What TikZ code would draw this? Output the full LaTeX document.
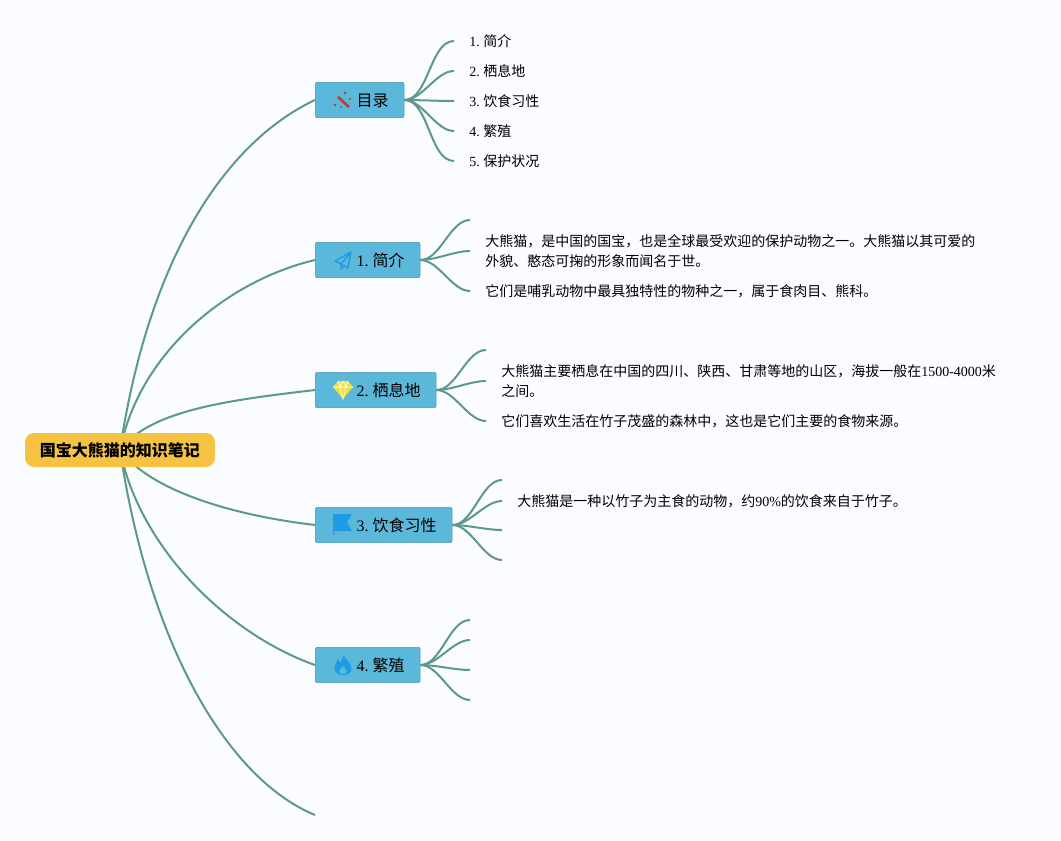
\documentclass[tikz,border=0pt]{standalone}
\usepackage{fontspec}
\setmainfont{Liberation Serif}
\newfontfamily\cjk{Noto Sans CJK SC}
\usetikzlibrary{backgrounds,calc}
\newcommand{\zh}[1]{{\cjk #1}}
\definecolor{pagebg}{HTML}{FBFCFF}
\definecolor{linecol}{HTML}{5B9A8B}
\definecolor{topicfill}{HTML}{5BB8DB}
\definecolor{topicline}{HTML}{4C9AA8}
\definecolor{rootfill}{HTML}{F5C242}
\definecolor{iconblue}{HTML}{1E9BE3}
\definecolor{iconred}{HTML}{C0392B}
\definecolor{iconyellow}{HTML}{EDE23C}
\tikzset{
  x=0.75pt,y=-0.75pt,
  rootnode/.style={fill=rootfill,rounded corners=7pt,minimum width=142.5pt,minimum height=25.5pt,inner sep=0pt,font=\fontsize{12}{14}\selectfont\cjk\bfseries},
  topic/.style={anchor=west,draw=topicline,fill=topicfill,rounded corners=1.5pt,minimum height=26.5pt,inner xsep=11.6pt,inner ysep=0pt,text height=11pt,text depth=1.2pt,font=\fontsize{12}{14}\selectfont\frenchspacing},
  leaf/.style={anchor=west,inner xsep=11.25pt,inner ysep=1pt,align=left,font=\fontsize{10.5}{15}\selectfont\frenchspacing},
  branch/.style={draw=linecol,line width=1.5pt},
  twig/.style={draw=linecol,line width=1.5pt,out=0,in=180,looseness=0.8},
  wand/.pic={
    \draw[iconred,line width=1.9pt] (-5,-3) -- (6,7);
    \fill[iconred] (2,-7) circle (1.4) (7,-1) circle (1.2) (-8,5) circle (1.4) (-2,7) circle (1);
  },
  plane/.pic={
    \draw[iconblue,line width=1pt,line join=round] (8,-8) -- (-8,1) -- (-2,4) -- cycle (8,-8) -- (5,8) -- (-2,4) -- (-2,9) -- (1,6);
  },
  gem/.pic={
    \fill[iconyellow] (-5,-9) -- (5,-9) -- (10,-3) -- (0,9) -- (-10,-3) -- cycle;
    \draw[white,line width=0.5pt] (-10,-3) -- (10,-3) (-5,-9) -- (-3,-3) -- (0,9) -- (3,-3) -- (5,-9) (-3,-3) -- (0,-9) -- (3,-3);
  },
  flag/.pic={
    \fill[iconblue] (-10,-11) -- (9,-11) -- (4,-3) -- (9,6) -- (-8.7,6) -- (-8.7,10) -- (-10,10) -- cycle;
  },
  flame/.pic={
    \fill[iconblue,even odd rule] (1,-10) .. controls (2,-5) and (8,-3) .. (8.5,3) .. controls (9,8) and (4,10) .. (0,10) .. controls (-5,10) and (-9,7) .. (-8.5,2) .. controls (-8,-2) and (-6,-3) .. (-5,-6) .. controls (-4,-4) and (-3,-3) .. (-2,-3) .. controls (-1,-5) and (-1,-8) .. (1,-10) -- cycle
      (0,1) .. controls (-1,3) and (-4,4) .. (-4,6.5) .. controls (-4,8.5) and (-2,9) .. (0,9) .. controls (2,9) and (4,8.5) .. (4,6.5) .. controls (4,4) and (1,3) .. (0,1) -- cycle;
  },
}

\begin{document}
\begin{tikzpicture}
        \useasboundingbox (0,0) rectangle (1061,840);
        %
        \node[rootnode] (root) at (120,450) {国宝大熊猫的知识笔记};
        \node[topic] (mulu) at (315,100) {\hspace*{19.5pt}\zh{目录}};
        \node[topic] (jianjie) at (315,260) {\hspace*{19.5pt}1. \zh{简介}};
        \node[topic] (qixi) at (315,390) {\hspace*{19.5pt}2. \zh{栖息地}};
        \node[topic] (yinshi) at (315,525) {\hspace*{19.5pt}3. \zh{饮食习性}};
        \node[topic] (fanzhi) at (315,665) {\hspace*{19.5pt}4. \zh{繁殖}};
        \coordinate (last) at (315,815);
        %
        \pic at ($(mulu.west)+(28,0)$) {wand};
        \pic at ($(jianjie.west)+(28,0)$) {plane};
        \pic at ($(qixi.west)+(28,0)$) {gem};
        \pic at ($(yinshi.west)+(28,0)$) {flag};
        \pic at ($(fanzhi.west)+(28,0)$) {flame};
        %
        % contents
        \node[leaf] (m1) at (454,41) {1. \zh{简介}};
        \node[leaf] (m2) at (454,71) {2. \zh{栖息地}};
        \node[leaf] (m3) at (454,101) {3. \zh{饮食习性}};
        \node[leaf] (m4) at (454,131) {4. \zh{繁殖}};
        \node[leaf] (m5) at (454,161) {5. \zh{保护状况}};
        \foreach \n in {1,...,5}
          \draw[twig] (mulu.east) to (m\n.west);
        %
        % intro
        \coordinate (j1) at (470,220);
        \node[leaf] (j2) at (470,251) {\zh{大熊猫，是中国的国宝，也是全球最受欢迎的保护动物之一。大熊猫以其可爱的}\\\zh{外貌、憨态可掬的形象而闻名于世。}};
        \node[leaf] (j3) at (470,291) {\zh{它们是哺乳动物中最具独特性的物种之一，属于食肉目、熊科。}};
        \foreach \n in {1,2,3}
          \draw[twig] (jianjie.east) to (j\n);
        %
        % habitat
        \coordinate (q1) at (486,350);
        \node[leaf] (q2) at (486,381) {\zh{大熊猫主要栖息在中国的四川、陕西、甘肃等地的山区，海拔一般在}1500-4000\zh{米}\\\zh{之间。}};
        \node[leaf] (q3) at (486,421) {\zh{它们喜欢生活在竹子茂盛的森林中，这也是它们主要的食物来源。}};
        \foreach \n in {1,2,3}
          \draw[twig] (qixi.east) to (q\n);
        %
        % diet
        \coordinate (y1) at (502,480);
        \node[leaf] (y2) at (502,501) {\zh{大熊猫是一种以竹子为主食的动物，约}90\%\zh{的饮食来自于竹子。}};
        \coordinate (y3) at (502,530);
        \coordinate (y4) at (502,560);
        \foreach \n in {1,...,4}
          \draw[twig] (yinshi.east) to (y\n);
        %
        % breeding
        \coordinate (f1) at (470,620);
        \coordinate (f2) at (470,640);
        \coordinate (f3) at (470,670);
        \coordinate (f4) at (470,700);
        \foreach \n in {1,...,4}
          \draw[twig] (fanzhi.east) to (f\n);
        %
        \begin{pgfonlayer}{background}
          \fill[pagebg] (0,0) rectangle (1061,840);
          \draw[branch] (root.center) .. controls (150,250) and (230,140) .. (mulu.west);
          \draw[branch] (root.center) .. controls (140,350) and (230,280) .. (jianjie.west);
          \draw[branch] (root.center) .. controls (150,410) and (230,400) .. (qixi.west);
          \draw[branch] (root.center) .. controls (150,490) and (230,515) .. (yinshi.west);
          \draw[branch] (root.center) .. controls (140,550) and (230,635) .. (fanzhi.west);
          \draw[branch] (root.center) .. controls (150,650) and (230,780) .. (last);
        \end{pgfonlayer}
      \end{tikzpicture}
\end{document}
